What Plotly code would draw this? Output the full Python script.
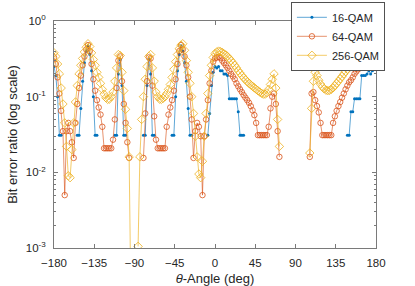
import plotly.graph_objects as go

# ---- data ----
angle_deg = list(range(-180, 181, 2))

N = None
ber_16qam = [
    0.25, 0.19, 0.10, 0.031, 0.031, N, N, N, N, N,            # -180..-162
    N, N, N, 0.031, 0.031, 0.07, 0.16, 0.28, 0.40, 0.47,      # -160..-142
    0.36, 0.22, 0.10, 0.031, 0.031, N, N, N, N, N,            # -140..-122
    N, N, N, N, 0.031, 0.031, 0.20, 0.31, 0.14, 0.031,        # -120..-102
    0.031, N, N, N, N, N, N, N, N, N,                         # -100..-82
    0.031, 0.031, 0.14, 0.31, 0.20, 0.031, 0.031, N, N, N,    # -80..-62
    N, N, N, N, N, N, 0.031, 0.031, 0.10, 0.22,               # -60..-42
    0.36, 0.47, 0.40, 0.28, 0.16, 0.07, 0.031, 0.031, N, N,   # -40..-22
    N, N, N, N, N, N, 0.031, 0.06, 0.14, 0.21,                # -20..-2
    0.25, 0.24, 0.25, 0.22, 0.22, 0.20, 0.20, 0.19, 0.094, 0.094,  # 0..18
    0.094, 0.094, 0.094, 0.063, 0.031, 0.031, 0.031, N, N, N,      # 20..38
    N, N, N, N, N, N, N, N, N, N,                              # 40..58
    N, N, N, N, N, N, N, N, N, N,                              # 60..78
    N, N, N, N, N, N, N, N, N, N,                              # 80..98
    N, N, N, N, N, N, N, N, N, N,                              # 100..118
    N, N, N, N, N, N, N, N, N, N,                              # 120..138
    N, N, N, N, 0.031, 0.031, 0.063, 0.063, 0.094, 0.094,      # 140..158
    0.094, 0.094, 0.19, 0.19, 0.19, 0.20, 0.22, 0.20, 0.22, 0.24,  # 160..178
    0.25,                                                      # 180
]

ber_64qam = [
    0.33, 0.27, 0.18, 0.11, 0.065, 0.035, 0.005, 0.035, 0.045, 0.035,   # -180..-162
    0.025, 0.0155, 0.045, 0.08, 0.13, 0.19, 0.26, 0.34, 0.42, 0.48,     # -160..-142
    0.40, 0.27, 0.17, 0.12, 0.09, 0.072, 0.058, 0.04, 0.0208, 0.0208,   # -140..-122
    0.0208, 0.0208, 0.0208, 0.027, 0.05, 0.13, 0.30, 0.34, 0.16, 0.08,  # -120..-102
    0.045, 0.025, 0.0155, N, N, N, N, N, N, N,                          # -100..-82
    0.0155, 0.06, 0.16, 0.33, 0.32, 0.14, 0.055, 0.027, 0.0208, 0.0208, # -80..-62
    0.0208, 0.0208, 0.0208, 0.04, 0.058, 0.072, 0.09, 0.12, 0.17, 0.27, # -60..-42
    0.40, 0.48, 0.42, 0.34, 0.26, 0.18, 0.10, 0.05, 0.0155, 0.035,      # -40..-22
    0.045, 0.04, 0.03, 0.005, 0.03, 0.05, 0.09, 0.15, 0.22, 0.29,       # -20..-2
    0.32, 0.33, 0.335, 0.325, 0.30, 0.28, 0.26, 0.24, 0.22, 0.20,       # 0..18
    0.185, 0.17, 0.15, 0.137, 0.125, 0.115, 0.105, 0.097, 0.09, 0.083,  # 20..38
    0.075, 0.066, 0.057, 0.045, 0.031, 0.031, 0.031, 0.031, 0.031, 0.031,  # 40..58
    0.04, 0.07, 0.10, 0.11, 0.08, 0.035, 0.016, N, N, N,                # 60..78
    N, N, N, N, N, N, N, N, N, N,                                       # 80..98
    N, N, N, 0.016, 0.11, 0.115, 0.09, 0.075, 0.062, 0.045,             # 100..118
    0.031, 0.031, 0.031, 0.031, 0.031, 0.031, 0.045, 0.055, 0.065, 0.075,  # 120..138
    0.085, 0.097, 0.11, 0.125, 0.14, 0.155, 0.165, 0.18, 0.20, 0.215,   # 140..158
    0.23, 0.245, 0.26, 0.275, 0.285, 0.295, 0.305, 0.315, 0.32, 0.325,  # 160..178
    0.33,                                                               # 180
]

ber_256qam = [
    0.38, 0.34, 0.27, 0.20, 0.13, 0.08, 0.045, 0.022, 0.009, 0.0085,    # -180..-162
    0.02, 0.045, 0.085, 0.14, 0.20, 0.26, 0.32, 0.39, 0.45, 0.50,       # -160..-142
    0.46, 0.38, 0.31, 0.26, 0.21, 0.18, 0.15, 0.125, 0.108, 0.097,      # -140..-122
    0.092, 0.093, 0.10, 0.115, 0.16, 0.24, 0.36, 0.35, 0.21, 0.12,      # -120..-102
    0.068, 0.038, 0.016, 0.0002, N, N, N, 0.00105, 0.016, 0.05,         # -100..-82
    0.10, 0.17, 0.25, 0.34, 0.36, 0.24, 0.16, 0.115, 0.10, 0.093,       # -80..-62
    0.092, 0.095, 0.10, 0.11, 0.125, 0.145, 0.18, 0.23, 0.29, 0.36,     # -60..-42
    0.43, 0.48, 0.50, 0.41, 0.30, 0.21, 0.15, 0.10, 0.06, 0.03,         # -40..-22
    0.016, 0.0095, 0.0085, 0.014, 0.03, 0.06, 0.11, 0.19, 0.26, 0.33,   # -20..-2
    0.37, 0.39, 0.40, 0.395, 0.385, 0.37, 0.355, 0.34, 0.32, 0.30,      # 0..18
    0.28, 0.26, 0.24, 0.22, 0.205, 0.19, 0.178, 0.168, 0.158, 0.15,     # 20..38
    0.143, 0.137, 0.131, 0.125, 0.12, 0.115, 0.111, 0.108, 0.108, 0.112,  # 40..58
    0.125, 0.145, 0.17, 0.20, 0.13, 0.05, 0.022, N, N, N,               # 60..78
    N, N, N, N, N, N, N, N, N, N,                                       # 80..98
    N, N, N, 0.018, 0.07, 0.16, 0.21, 0.19, 0.165, 0.147,               # 100..118
    0.135, 0.127, 0.122, 0.12, 0.121, 0.125, 0.131, 0.14, 0.15, 0.16,   # 120..138
    0.172, 0.185, 0.20, 0.215, 0.23, 0.245, 0.26, 0.275, 0.29, 0.305,   # 140..158
    0.32, 0.335, 0.35, 0.36, 0.37, 0.38, 0.39, 0.395, 0.40, 0.395,      # 160..178
    0.385,                                                              # 180
]

x_ticks = [-180, -135, -90, -45, 0, 45, 90, 135, 180]
y_ticks = [1, 0.1, 0.01, 0.001]
y_tick_text = ["10<sup>0</sup>", "10<sup>-1</sup>", "10<sup>-2</sup>", "10<sup>-3</sup>"]
y_minor = [m * 10.0 ** e for e in (-3, -2, -1) for m in range(2, 10)]

# ---- figure ----
fig = go.Figure()
fig.add_trace(go.Scatter(
    x=angle_deg, y=ber_16qam, name="16-QAM", mode="lines+markers",
    line=dict(color="rgba(0,114,189,0.7)", width=0.9),
    marker=dict(symbol="circle", size=3, color="#0072BD"),
))
fig.add_trace(go.Scatter(
    x=angle_deg, y=ber_64qam, name="64-QAM", mode="lines+markers",
    line=dict(color="rgba(217,83,25,0.7)", width=0.9),
    marker=dict(symbol="circle-open", size=5.5, color="#D95319", line=dict(width=0.8)),
))
fig.add_trace(go.Scatter(
    x=angle_deg, y=ber_256qam, name="256-QAM", mode="lines+markers",
    line=dict(color="rgba(237,177,32,0.75)", width=0.9),
    marker=dict(symbol="diamond-open", size=6.5, color="#EDB120", line=dict(width=0.8)),
))

axis_col = "#7a7a7a"
fig.update_layout(
    width=415, height=286,
    margin=dict(l=54, r=39, t=21, b=38, autoexpand=False),
    paper_bgcolor="white", plot_bgcolor="white",
    font=dict(family="Liberation Sans, Arial, sans-serif", size=11.5, color="#262626"),
    showlegend=True,
    legend=dict(
        xref="container", yref="container",
        x=0.928, y=0.993, xanchor="right", yanchor="top",
        bgcolor="white", bordercolor="#262626", borderwidth=0.8,
        font=dict(size=11), tracegroupgap=0, itemwidth=30,
    ),
    xaxis=dict(
        range=[-180, 180], tickmode="array", tickvals=x_ticks,
        ticks="inside", ticklen=4, tickcolor=axis_col, tickwidth=1,
        ticklabelstandoff=4,
        showline=True, linecolor=axis_col, linewidth=1, mirror="ticks",
        showgrid=False, zeroline=False,
        title=dict(text="<i>θ</i>-Angle (deg)", font=dict(size=13), standoff=7),
    ),
    yaxis=dict(
        type="log", range=[-3, 0], tickmode="array",
        tickvals=y_ticks, ticktext=y_tick_text,
        ticks="inside", ticklen=4, tickcolor=axis_col, tickwidth=1,
        ticklabelstandoff=5,
        minor=dict(ticks="inside", ticklen=2, tickcolor=axis_col, tickvals=y_minor),
        showline=True, linecolor=axis_col, linewidth=1, mirror="ticks",
        showgrid=False, zeroline=False,
        title=dict(text="Bit error ratio (log scale)", font=dict(size=13), standoff=5),
    ),
)

fig.write_html(
    "out.html",
    config={"displayModeBar": False},
    post_script="document.body.style.margin='0';document.body.style.overflow='hidden';",
)
